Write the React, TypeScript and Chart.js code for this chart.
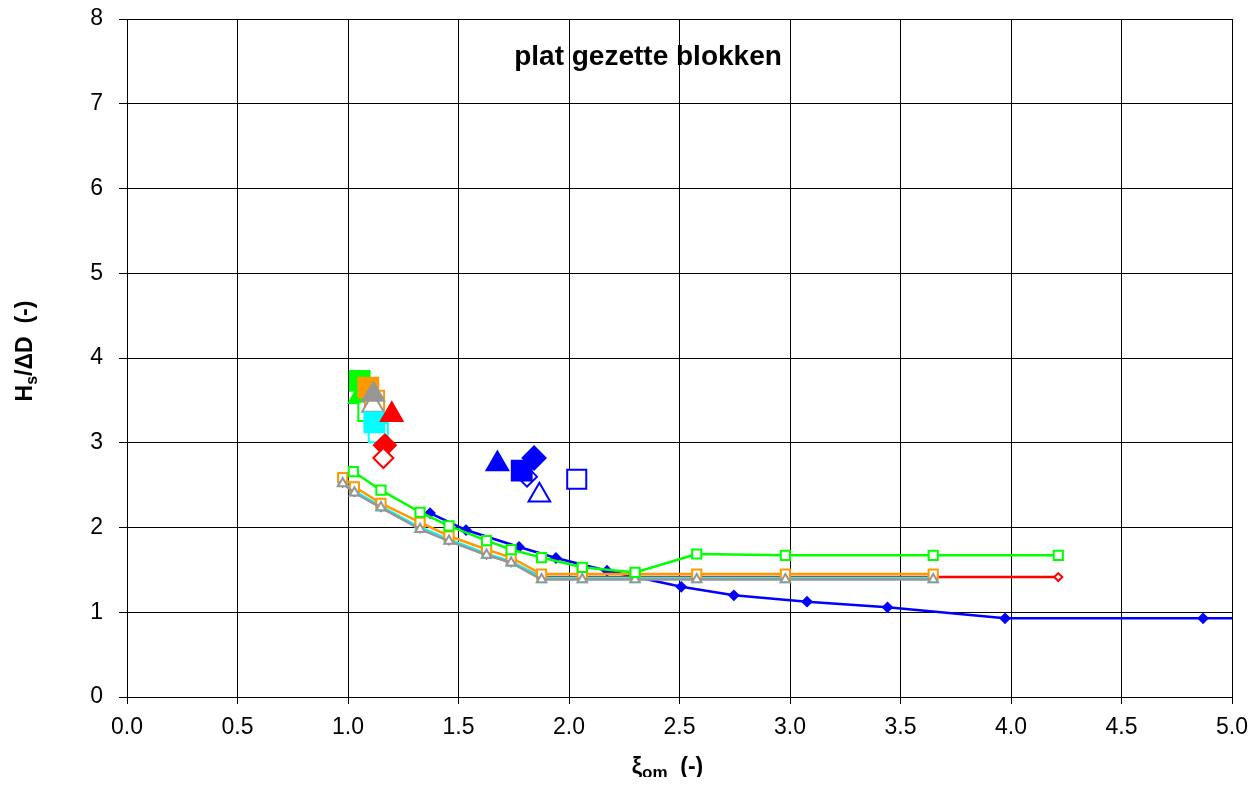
import React, { useEffect, useRef } from 'react';
import { Chart, registerables } from 'chart.js';

Chart.register(...registerables);

// ---------- data ----------
const chartTitle = 'plat gezette blokken';

// line series
const blueLineX = [1.371, 1.534, 1.774, 1.941, 2.172, 2.508, 2.746, 3.077, 3.441, 3.973, 4.869, 5.3];
const blueLineY = [2.17, 1.97, 1.77, 1.64, 1.49, 1.30, 1.20, 1.125, 1.058, 0.928, 0.928, 0.928];

const commonLineX = [0.976, 1.029, 1.149, 1.326, 1.457, 1.627, 1.738, 1.876, 2.06, 2.299, 2.578, 2.979, 3.648];
const redLineX = [0.976, 1.029, 1.149, 1.326, 1.457, 1.627, 1.738, 1.876, 2.06, 2.299, 2.578, 2.979, 3.648, 4.214];
const redLineY = [2.53, 2.42, 2.24, 1.99, 1.85, 1.68, 1.59, 1.415, 1.415, 1.415, 1.415, 1.415, 1.415, 1.415];
const cyanLineY = [2.54, 2.43, 2.25, 2.0, 1.86, 1.69, 1.60, 1.405, 1.405, 1.405, 1.405, 1.405, 1.405];
const orangeLineY = [2.59, 2.48, 2.285, 2.06, 1.90, 1.74, 1.645, 1.45, 1.45, 1.45, 1.45, 1.45, 1.45];
const grayLineY = [2.52, 2.41, 2.235, 1.98, 1.84, 1.675, 1.585, 1.385, 1.385, 1.385, 1.385, 1.385, 1.385];

const greenLineX = [1.024, 1.149, 1.326, 1.457, 1.627, 1.738, 1.876, 2.06, 2.299, 2.578, 2.979, 3.648, 4.214];
const greenLineY = [2.66, 2.44, 2.18, 2.02, 1.845, 1.74, 1.645, 1.53, 1.47, 1.687, 1.672, 1.672, 1.672];

// single measured points: [x, y]
const greenFilledSquare = [1.053, 3.73];
const greenFilledTriangle = [1.05, 3.54];
const greenOpenSquare = [1.09, 3.37];
const orangeOpenSquare = [1.12, 3.5];
const orangeFilledSquare = [1.092, 3.65];
const grayOpenTriangle = [1.113, 3.44];
const grayFilledTriangle = [1.115, 3.57];
const cyanOpenSquare = [1.137, 3.12];
const cyanFilledSquare = [1.119, 3.24];
const redFilledTriangle = [1.198, 3.33];
const redFilledDiamond = [1.167, 2.97];
const redOpenDiamond = [1.16, 2.82];
const blueFilledTriangle = [1.676, 2.75];
const blueOpenDiamond = [1.81, 2.6];
const blueFilledSquare = [1.786, 2.67];
const blueFilledDiamond = [1.842, 2.82];
const blueOpenTriangle = [1.866, 2.38];
const blueOpenSquare = [2.035, 2.57];

const BLUE = '#0000FF';
const RED = '#FF0000';
const CYAN = '#00FFFF';
const ORANGE = '#FF9900';
const GRAY = '#969696';
const GREEN = '#00FF00';

const FONT = 'Arial, "Liberation Sans", sans-serif';

function pts(xs: number[], ys: number[]) {
  return xs.map((x, i) => ({ x, y: ys[i] }));
}

function lineSet(xs: number[], ys: number[], color: string, style: string, radius: number, filled: boolean) {
  return {
    data: pts(xs, ys),
    showLine: true,
    borderColor: color,
    borderWidth: 2.5,
    pointStyle: style,
    pointRadius: radius,
    pointBorderWidth: 2,
    pointBorderColor: color,
    pointBackgroundColor: filled ? color : '#FFFFFF',
  };
}

function markerSet(p: number[], color: string, style: string, radius: number, filled: boolean) {
  return {
    data: [{ x: p[0], y: p[1] }],
    showLine: false,
    pointStyle: style,
    pointRadius: radius,
    pointBorderWidth: 2,
    pointBorderColor: color,
    pointBackgroundColor: filled ? color : '#FFFFFF',
  };
}

const textPlugin = {
  id: 'customTexts',
  afterDraw(chart: any) {
    const ctx = chart.ctx;
    const area = chart.chartArea;
    ctx.save();
    ctx.fillStyle = '#000';
    ctx.textBaseline = 'alphabetic';

    // title inside plot
    ctx.font = `bold 28px ${FONT}`;
    ctx.textAlign = 'center';
    ctx.fillText(chartTitle, area.left + 521, area.top + 46);

    // x axis title: ξ_om  (-)
    const mainX = `bold 23px ${FONT}`;
    const subX = `bold 17px ${FONT}`;
    ctx.textAlign = 'left';
    ctx.font = mainX;
    const wXi = ctx.measureText('\u03BE').width;
    const wRest = ctx.measureText('  (-)').width;
    ctx.font = subX;
    const wOm = ctx.measureText('om').width;
    const total = wXi + wOm + wRest;
    const cx = (area.left + area.right) / 2 - 12;
    let x0 = cx - total / 2;
    const base = 766;
    ctx.font = mainX;
    ctx.fillText('\u03BE', x0, base);
    x0 += wXi;
    ctx.font = subX;
    ctx.fillText('om', x0, base + 4);
    x0 += wOm;
    ctx.font = mainX;
    ctx.fillText('  (-)', x0, base);

    // y axis title: H_s/ΔD  (-)
    const mainY = `bold 23px ${FONT}`;
    const subY = `bold 16px ${FONT}`;
    ctx.translate(24, 343);
    ctx.rotate(-Math.PI / 2);
    ctx.font = mainY;
    const wH = ctx.measureText('H').width;
    const wTail = ctx.measureText('/\u0394D  (-)').width;
    ctx.font = subY;
    const wS = ctx.measureText('s').width;
    const tot = wH + wS + wTail;
    let y0 = -tot / 2;
    ctx.font = mainY;
    ctx.fillText('H', y0, 0);
    y0 += wH;
    ctx.font = subY;
    ctx.fillText('s', y0, 5);
    y0 += wS;
    ctx.font = mainY;
    ctx.fillText('/\u0394D  (-)', y0, 0);
    ctx.restore();
  },
};

export default function App() {
  const ref = useRef<HTMLCanvasElement | null>(null);

  useEffect(() => {
    if (!ref.current) return;
    const datasets: any[] = [
      lineSet(blueLineX, blueLineY, BLUE, 'rectRot', 4.5, true),
      lineSet(redLineX, redLineY, RED, 'rectRot', 4, false),
      lineSet(commonLineX, cyanLineY, CYAN, 'rect', 6, false),
      lineSet(commonLineX, orangeLineY, ORANGE, 'rect', 6.5, false),
      lineSet(commonLineX, grayLineY, GRAY, 'triangle', 5.5, false),
      lineSet(greenLineX, greenLineY, GREEN, 'rect', 6.5, false),
      markerSet(greenFilledSquare, GREEN, 'rect', 14, true),
      markerSet(greenFilledTriangle, GREEN, 'triangle', 12, true),
      markerSet(greenOpenSquare, GREEN, 'rect', 13.5, false),
      markerSet(orangeOpenSquare, ORANGE, 'rect', 13.5, false),
      markerSet(orangeFilledSquare, ORANGE, 'rect', 14, true),
      markerSet(grayOpenTriangle, GRAY, 'triangle', 12.5, false),
      markerSet(grayFilledTriangle, GRAY, 'triangle', 12.5, true),
      markerSet(cyanOpenSquare, CYAN, 'rect', 13.5, false),
      markerSet(cyanFilledSquare, CYAN, 'rect', 14, true),
      markerSet(redFilledTriangle, RED, 'triangle', 12.5, true),
      markerSet(redFilledDiamond, RED, 'rectRot', 11, true),
      markerSet(redOpenDiamond, RED, 'rectRot', 10, false),
      markerSet(blueFilledTriangle, BLUE, 'triangle', 12.5, true),
      markerSet(blueOpenDiamond, BLUE, 'rectRot', 10, false),
      markerSet(blueFilledSquare, BLUE, 'rect', 14, true),
      markerSet(blueFilledDiamond, BLUE, 'rectRot', 11.5, true),
      markerSet(blueOpenTriangle, BLUE, 'triangle', 12.5, false),
      markerSet(blueOpenSquare, BLUE, 'rect', 13.5, false),
    ];
    const n = datasets.length;
    datasets.forEach((d, i) => {
      d.order = n - i;
    });

    const zeroPad = (s: any) => {
      s.paddingTop = 0;
      s.paddingBottom = 0;
      s.paddingLeft = 0;
      s.paddingRight = 0;
    };

    const chart = new Chart(ref.current, {
      type: 'scatter',
      data: { datasets },
      options: {
        responsive: false,
        animation: false,
        events: [],
        layout: { autoPadding: false, padding: { top: 11, right: 20, left: 0, bottom: 0 } },
        plugins: {
          legend: { display: false },
          title: { display: false },
          tooltip: { enabled: false },
        },
        scales: {
          x: {
            type: 'linear',
            min: 0,
            max: 5,
            afterFit: (s: any) => {
              s.height = 80;
              zeroPad(s);
            },
            ticks: {
              stepSize: 0.5,
              color: '#000',
              padding: 10,
              font: { family: FONT, size: 23 },
              callback: (v: any) => Number(v).toFixed(1),
              maxRotation: 0,
              autoSkip: false,
            },
            grid: { color: '#000', lineWidth: 1, tickLength: 7 },
            border: { color: '#000', width: 1 },
          },
          y: {
            type: 'linear',
            min: 0,
            max: 8,
            afterFit: (s: any) => {
              s.width = 119;
              zeroPad(s);
            },
            ticks: {
              stepSize: 1,
              color: '#000',
              padding: 16,
              font: { family: FONT, size: 23 },
              autoSkip: false,
            },
            grid: { color: '#000', lineWidth: 1, tickLength: 8 },
            border: { color: '#000', width: 1 },
          },
        },
      },
      plugins: [textPlugin],
    } as any);
    return () => chart.destroy();
  }, []);

  return (
    <div style={{ width: 1244, height: 769 }}>
      <canvas ref={ref} width={1244} height={769} style={{ display: 'block' }} />
    </div>
  );
}
